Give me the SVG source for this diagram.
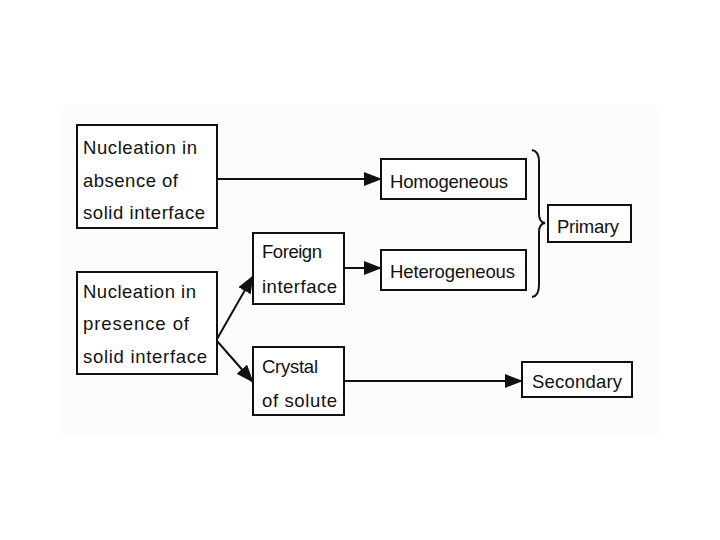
<svg xmlns="http://www.w3.org/2000/svg" width="720" height="540" viewBox="0 0 720 540">
<style>
.box{fill:#fff;stroke:#111;stroke-width:2}
.t{font-family:"Liberation Sans",Arial,sans-serif;font-size:18.5px;fill:#111}
.c{stroke:#111;stroke-width:2;fill:none}
</style>
<defs>
<marker id="ah" markerUnits="userSpaceOnUse" markerWidth="18" markerHeight="14" refX="17" refY="7" orient="auto">
<path d="M0,0 L18,7 L0,14 Z" fill="#111"/>
</marker>
</defs>
<rect width="720" height="540" fill="#fff"/>
<rect x="60" y="105" width="600" height="330" fill="#fcfcfc"/>
<g id="connectors">
<line class="c" x1="217" y1="179" x2="381" y2="179" marker-end="url(#ah)"/>
<line class="c" x1="344" y1="268" x2="381" y2="268" marker-end="url(#ah)"/>
<line class="c" x1="344" y1="381" x2="522" y2="381" marker-end="url(#ah)"/>
<line class="c" x1="217" y1="339" x2="253" y2="276" marker-end="url(#ah)"/>
<line class="c" x1="217" y1="341" x2="253" y2="382" marker-end="url(#ah)"/>
<path class="c" d="M532,150 Q539,151 539,162 L539,214 Q539,222 545,223 Q539,224 539,232 L539,285 Q539,296 532,297"/>
</g>
<g id="absence">
<rect class="box" x="77" y="125" width="140" height="103"/>
<text class="t" x="83" y="154" textLength="114" lengthAdjust="spacing">Nucleation in</text>
<text class="t" x="83" y="187" textLength="95" lengthAdjust="spacing">absence of</text>
<text class="t" x="83" y="219" textLength="122" lengthAdjust="spacing">solid interface</text>
</g>
<g id="presence">
<rect class="box" x="77" y="272" width="140" height="102"/>
<text class="t" x="83" y="298" textLength="113" lengthAdjust="spacing">Nucleation in</text>
<text class="t" x="83" y="330" textLength="106" lengthAdjust="spacing">presence of</text>
<text class="t" x="83" y="363" textLength="124" lengthAdjust="spacing">solid interface</text>
</g>
<g id="foreign">
<rect class="box" x="253" y="233" width="91" height="71"/>
<text class="t" x="262" y="258" textLength="60" lengthAdjust="spacing">Foreign</text>
<text class="t" x="262" y="293" textLength="75" lengthAdjust="spacing">interface</text>
</g>
<g id="crystal">
<rect class="box" x="253" y="347" width="91" height="68"/>
<text class="t" x="262" y="373" textLength="56" lengthAdjust="spacing">Crystal</text>
<text class="t" x="262" y="407" textLength="75" lengthAdjust="spacing">of solute</text>
</g>
<g id="homogeneous">
<rect class="box" x="381" y="159" width="145" height="40"/>
<text class="t" x="390" y="188" textLength="118" lengthAdjust="spacing">Homogeneous</text>
</g>
<g id="heterogeneous">
<rect class="box" x="381" y="250" width="145" height="40"/>
<text class="t" x="390" y="278" textLength="125" lengthAdjust="spacing">Heterogeneous</text>
</g>
<g id="primary">
<rect class="box" x="548" y="205" width="83" height="37"/>
<text class="t" x="557" y="233" textLength="62" lengthAdjust="spacing">Primary</text>
</g>
<g id="secondary">
<rect class="box" x="522" y="362" width="110" height="35"/>
<text class="t" x="532" y="388" textLength="90" lengthAdjust="spacing">Secondary</text>
</g>
</svg>
